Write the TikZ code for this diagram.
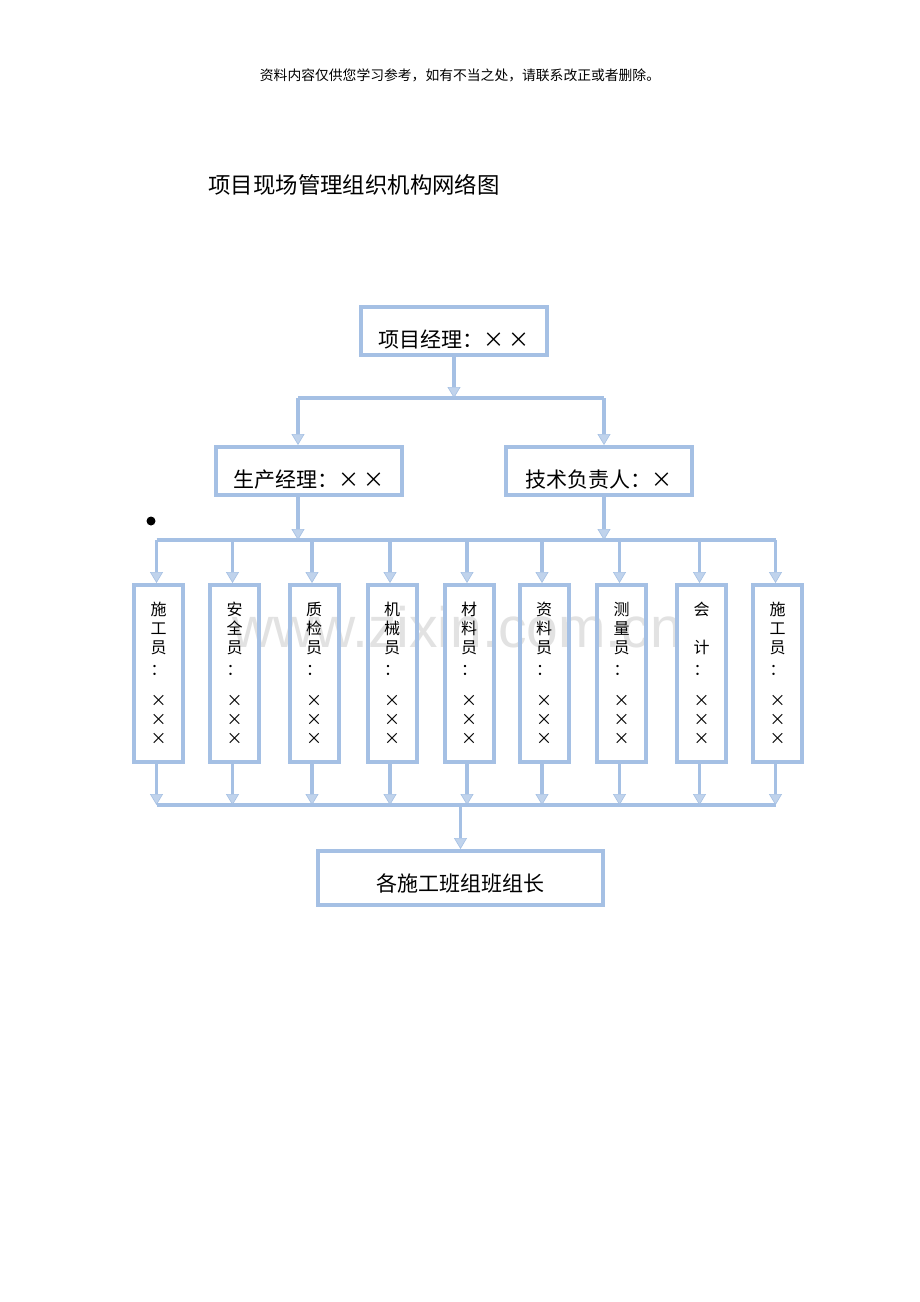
\documentclass[tikz,border=0pt]{standalone}
\usepackage{fontspec}
\setsansfont{Liberation Sans}
\newfontfamily\cjk{Noto Sans CJK SC}
\usetikzlibrary{arrows.meta}
\definecolor{bord}{RGB}{165,192,228}
\definecolor{bordd}{RGB}{130,165,215}
\definecolor{wm}{RGB}{226,226,226}
\begin{document}
\begin{tikzpicture}[x=1pt,y=-1pt,
  box/.style={draw=bord, line width=4pt, inner sep=0pt, align=center},
  bigbox/.style={box, minimum width=186pt, minimum height=48pt,
     font=\cjk\fontsize{21}{21}\selectfont, text height=36pt, text depth=2.5pt},
  smallbox/.style={box, minimum width=49pt, minimum height=177pt,
     font=\cjk\fontsize{16}{19}\selectfont},
  conn/.style={draw=bord, line width=3.5pt,
     -{Triangle[width=13pt,length=11pt,line width=0.6pt,fill=bord!70]}},
  bus/.style={draw=bord, line width=3.5pt}
]
\useasboundingbox[fill=white] (0,0) rectangle (920,1302);

% watermark
\node[text=wm, font=\sffamily\fontsize{57}{57}\selectfont] (wmark) at (457,627) {www.zixin.com.cn};

% header and title
\node[font=\cjk\fontsize{13.8}{13.8}\selectfont] (hdr) at (460,75)
  {资料内容仅供您学习参考，如有不当之处，请联系改正或者删除。};
\node[anchor=west, font=\cjk\fontsize{22.4}{22.4}\selectfont] (title) at (205,185)
  {项目现场管理组织机构网络图};

% main boxes
\node[bigbox] (pm) at (454,331) {项目经理：× ×};
\node[bigbox] (pe) at (309,471) {生产经理：× ×};
\node[bigbox] (te) at (599,471) {技术负责人：×};
\node[box, minimum width=285pt, minimum height=54pt,
  font=\cjk\fontsize{21}{21}\selectfont, text height=30pt, text depth=2.5pt]
  (lead) at (460.5,878) {各施工班组班组长};

\node[circle, fill=black, inner sep=0pt, minimum size=9pt] (dot) at (151,521) {};

% small boxes
\node[smallbox] (s1) at (158.5,673.5) {施\\工\\员\\[3pt]：\\[12pt]×\\×\\×};
\node[smallbox] (s2) at (234.5,673.5) {安\\全\\员\\[3pt]：\\[12pt]×\\×\\×};
\node[smallbox] (s3) at (314,673.5) {质\\检\\员\\[3pt]：\\[12pt]×\\×\\×};
\node[smallbox] (s4) at (392,673.5) {机\\械\\员\\[3pt]：\\[12pt]×\\×\\×};
\node[smallbox] (s5) at (469,673.5) {材\\料\\员\\[3pt]：\\[12pt]×\\×\\×};
\node[smallbox] (s6) at (544,673.5) {资\\料\\员\\[3pt]：\\[12pt]×\\×\\×};
\node[smallbox] (s7) at (621.5,673.5) {测\\量\\员\\[3pt]：\\[12pt]×\\×\\×};
\node[smallbox] (s8) at (701.5,673.5) {会\\\phantom{会}\\计\\[3pt]：\\[12pt]×\\×\\×};
\node[smallbox] (s9) at (777.5,673.5) {施\\工\\员\\[3pt]：\\[12pt]×\\×\\×};

% level 1 connectors
\path (0,398) coordinate (y1) (0,540) coordinate (y2) (0,805) coordinate (y3);
\coordinate (pein) at ([xshift=-11pt]pe.north);
\coordinate (tein) at ([xshift=5pt]te.north);
\coordinate (peout) at ([xshift=-11pt]pe.south);
\coordinate (teout) at ([xshift=5pt]te.south);

\draw[bus] (pein |- y1) -- (tein |- y1);
\draw[conn] (pm.south) -- (pm.south |- y1);
\draw[conn] (pein |- y1) -- (pein);
\draw[conn] (tein |- y1) -- (tein);

% level 2 connectors
\draw[bus] ([xshift=-2pt]s1.north |- y2) -- ([xshift=-2pt]s9.north |- y2);
\draw[conn] (peout) -- (peout |- y2);
\draw[conn] (teout) -- (teout |- y2);
\foreach \i in {1,...,9}{
  \draw[conn] ([xshift=-2pt]s\i.north |- y2) -- ([xshift=-2pt]s\i.north);
  \draw[conn] ([xshift=-2pt]s\i.south) -- ([xshift=-2pt]s\i.south |- y3);
}
\draw[bus] ([xshift=-2pt]s1.south |- y3) -- ([xshift=-2pt]s9.south |- y3);
\draw[conn] (lead.north |- y3) -- (lead.north);
\end{tikzpicture}
\end{document}
